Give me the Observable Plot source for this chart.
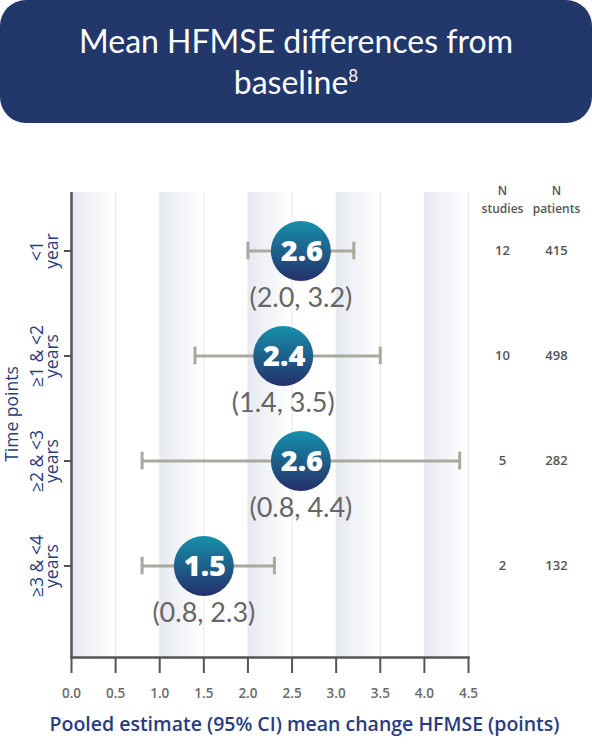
<!DOCTYPE html>
<html>
<head>
<meta charset="utf-8">
<script src="https://cdn.jsdelivr.net/npm/d3@7"></script>
<script src="https://cdn.jsdelivr.net/npm/@observablehq/plot@0.6"></script>
<style>
  html, body { margin: 0; padding: 0; background: #ffffff; }
  body { width: 592px; font-family: Lato, "Open Sans", sans-serif; }
  #title {
    width: 592px; height: 123px; box-sizing: border-box;
    background: #22376a; color: #ffffff; border-radius: 26px;
    display: flex; align-items: center; justify-content: center; text-align: center;
    font-family: Lato, sans-serif; font-size: 32px; line-height: 41px; padding-bottom: 2px;
  }
  #title sup { font-size: 17px; vertical-align: top; position: relative; top: -6px; }
</style>
</head>
<body>
<div id="title"><div>Mean HFMSE differences from<br>baseline<sup>8</sup></div></div>
<div id="chart"></div>
<script>
// ---- data ----
const timePoints = ["<1\nyear", "≥1 & <2\nyears", "≥2 & <3\nyears", "≥3 & <4\nyears"];
const estimates = [2.6, 2.4, 2.6, 1.5];
const ciLow = [2.0, 1.4, 0.8, 0.8];
const ciHigh = [3.2, 3.5, 4.4, 2.3];
const nStudies = [12, 10, 5, 2];
const nPatients = [415, 498, 282, 132];
const xTicks = [0, 0.5, 1, 1.5, 2, 2.5, 3, 3.5, 4, 4.5];
const bandStarts = [0, 1, 2, 3, 4];
const gridLines = [0.5, 1.5, 2.5, 3.5, 4.5];

const rows = timePoints.map((t, i) => ({
  t, est: estimates[i], lo: ciLow[i], hi: ciHigh[i],
  ns: nStudies[i], np: nPatients[i],
  ci: `(${ciLow[i].toFixed(1)}, ${ciHigh[i].toFixed(1)})`
}));

const navy = "#2a3b80";
const sans = "'Open Sans', Lato, sans-serif";
const svgNS = "http://www.w3.org/2000/svg";

function defs() {
  const g = document.createElementNS(svgNS, "defs");
  g.innerHTML = `
    <linearGradient id="bandGrad" x1="0" y1="0" x2="1" y2="0">
      <stop offset="0" stop-color="#e7e9f1"/>
      <stop offset="1" stop-color="#ffffff"/>
    </linearGradient>
    <linearGradient id="dotGrad" x1="0" y1="0" x2="0" y2="1">
      <stop offset="0" stop-color="#1690aa"/>
      <stop offset="1" stop-color="#25306b"/>
    </linearGradient>`;
  return g;
}

const capInset = 43.7;
const headStyle = { textAnchor: "middle", fill: "#555555", fontSize: 12, fontWeight: 600 };

const chart = Plot.plot({
  width: 592,
  height: 623,
  marginLeft: 71,
  marginRight: 124,
  marginTop: 69,
  marginBottom: 89,
  style: { fontFamily: sans, background: "transparent" },
  x: { domain: [0, 4.5], axis: null },
  y: { type: "band", domain: timePoints, range: [74.3, 495.7], padding: 0, axis: null },
  marks: [
    defs,
    Plot.rectX(bandStarts, { x1: d => d, x2: d => d + 0.5, fill: "url(#bandGrad)" }),
    Plot.ruleX(gridLines, { stroke: "#e4e5ea", strokeWidth: 1 }),
    // y axis ticks
    Plot.axisY({ tickSize: 7, tickFormat: () => "", stroke: "#555555", strokeWidth: 2, label: null }),
    // x axis
    Plot.axisX(xTicks, { tickSize: 16, tickPadding: 15, tickFormat: d => d.toFixed(1), stroke: "#555555", strokeWidth: 2, fill: "#6a6a6a", fontSize: 13.5, fontWeight: 600, label: null }),
    Plot.ruleX([0], { stroke: "#555555", strokeWidth: 2.5 }),
    Plot.frame({ anchor: "bottom", stroke: "#555555", strokeWidth: 2.5 }),
    // error bars
    Plot.ruleY(rows, { y: "t", x1: "lo", x2: "hi", stroke: "#a8a99f", strokeWidth: 3 }),
    Plot.tickX(rows, { y: "t", x: "lo", stroke: "#a8a99f", strokeWidth: 3, insetTop: capInset, insetBottom: capInset }),
    Plot.tickX(rows, { y: "t", x: "hi", stroke: "#a8a99f", strokeWidth: 3, insetTop: capInset, insetBottom: capInset }),
    // estimate circles
    Plot.dot(rows, { y: "t", x: "est", r: 30, fill: "url(#dotGrad)", stroke: "none" }),
    Plot.text(rows, { y: "t", x: "est", text: d => d.est.toFixed(1), fill: "#ffffff", fontFamily: sans, fontSize: 29, fontWeight: 800, dy: 1, dx: 1 }),
    Plot.text(rows, { y: "t", x: "est", text: "ci", fill: "#666666", fontFamily: "Lato, sans-serif", fontSize: 27, dy: 47 }),
    // y category labels
    Plot.text(rows, { y: "t", text: "t", frameAnchor: "left", dx: -26, rotate: -90, textAnchor: "middle", lineAnchor: "middle", lineHeight: 0.9, fill: navy, fontSize: 17.5 }),
    Plot.text(["Time points"], { frameAnchor: "left", dx: -59, dy: -11, rotate: -90, textAnchor: "middle", fill: navy, fontSize: 17.5, fontWeight: 500 }),
    // right columns
    Plot.text(["N"], { frameAnchor: "top-right", dx: 34, dy: -6, ...headStyle }),
    Plot.text(["studies"], { frameAnchor: "top-right", dx: 34, dy: 11.5, ...headStyle }),
    Plot.text(["N"], { frameAnchor: "top-right", dx: 88, dy: -6, ...headStyle }),
    Plot.text(["patients"], { frameAnchor: "top-right", dx: 88, dy: 11.5, ...headStyle }),
    Plot.text(rows, { y: "t", text: "ns", frameAnchor: "right", dx: 34, textAnchor: "middle", fill: "#555555", fontSize: 13, fontWeight: 600 }),
    Plot.text(rows, { y: "t", text: "np", frameAnchor: "right", dx: 88, textAnchor: "middle", fill: "#555555", fontSize: 13, fontWeight: 600 }),
    // x axis title
    Plot.text(["Pooled estimate (95% CI) mean change HFMSE (points)"], { frameAnchor: "bottom", dx: 34.5, dy: 73, textAnchor: "middle", fill: navy, fontSize: 19.5, fontWeight: 600 })
  ]
});
document.getElementById("chart").appendChild(chart);
</script>
</body>
</html>
